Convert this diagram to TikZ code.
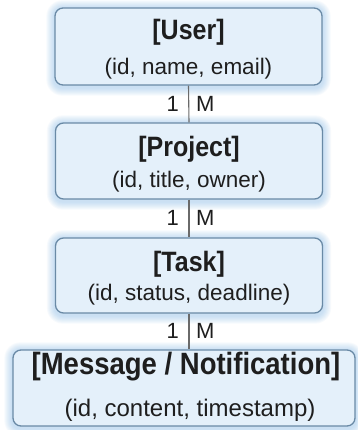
\documentclass[tikz,border=0pt]{standalone}
\usepackage{graphicx}
\usepackage{fontspec}
\setmainfont{Liberation Sans}
\usetikzlibrary{backgrounds}
\definecolor{boxfill}{HTML}{E4F0FA}
\definecolor{boxline}{HTML}{6A8AA6}
\definecolor{glowc}{HTML}{8FC0EA}
\definecolor{linkc}{HTML}{6A6A6A}
\definecolor{txt}{HTML}{1E1E1E}
\newcommand\talltext[1]{\scalebox{1}[1.12]{#1}}
\begin{document}
\begin{tikzpicture}[x=1pt,y=1pt,
  entity/.style={draw=boxline, line width=1.3pt, fill=boxfill, rounded corners=8pt,
    minimum width=267pt, minimum height=77pt, inner sep=0pt},
  ttl/.style={font=\fontsize{25}{28}\selectfont\bfseries, text=txt, inner sep=0pt},
  sub/.style={font=\fontsize{22.5}{26}\selectfont, text=txt, inner sep=0pt},
  card/.style={font=\fontsize{22}{24}\selectfont, text=txt, inner sep=0pt},
  link/.style={draw=linkc, line width=1.1pt}]
\useasboundingbox (0,0) rectangle (357,-430);
% boxes
\node[entity] (u) at (188.5,-46.5) {};
\node[entity, minimum height=76pt] (p) at (189,-161) {};
\node[entity, minimum height=75pt] (t) at (189,-275.5) {};
\node[entity, minimum width=342pt, minimum height=76pt] (m) at (184,-388) {};
% texts
\node[ttl] (ut) at (188.5,-32) {\talltext{[User]}};
\node[sub] (us) at (188.5,-69) {(id, name, email)};
\node[ttl] (pt) at (189,-149) {\talltext{[Project]}};
\node[sub] (ps) at (189,-182) {(id, title, owner)};
\node[ttl] (tt) at (189,-264) {\talltext{[Task]}};
\node[sub] (ts) at (189,-295) {(id, status, deadline)};
\node[ttl, font=\fontsize{27.5}{31}\selectfont\bfseries] (mt) at (186,-367) {\talltext{[Message / Notification]}};
\node[sub, font=\fontsize{24}{27}\selectfont] (ms) at (190,-410) {(id, content, timestamp)};
% connectors
\draw[link] (u.south) -- (p.north);
\draw[link] (p.south) -- (t.north);
\draw[link] (t.south) -- (t.south |- m.north);
% cardinalities
\node[card, anchor=east] (c1a) at (179,-104) {1};
\node[card, anchor=west] (c1b) at (196,-104) {M};
\node[card, anchor=east] (c2a) at (179,-218) {1};
\node[card, anchor=west] (c2b) at (196,-218) {M};
\node[card, anchor=east] (c3a) at (179,-331) {1};
\node[card, anchor=west] (c3b) at (196,-331) {M};
\begin{pgfonlayer}{background}
\fill[white] (0,0) rectangle (357,-430);
\foreach \n in {u,p,t,m}{
  \foreach \d in {1,...,8}{
    \fill[glowc, opacity=0.07, rounded corners=8pt+\d pt]
      ([shift={(-\d pt,\d pt - 1pt)}]\n.north west) rectangle ([shift={(\d pt,-\d pt - 2pt)}]\n.south east);
  }
}
\end{pgfonlayer}
\end{tikzpicture}
\end{document}
